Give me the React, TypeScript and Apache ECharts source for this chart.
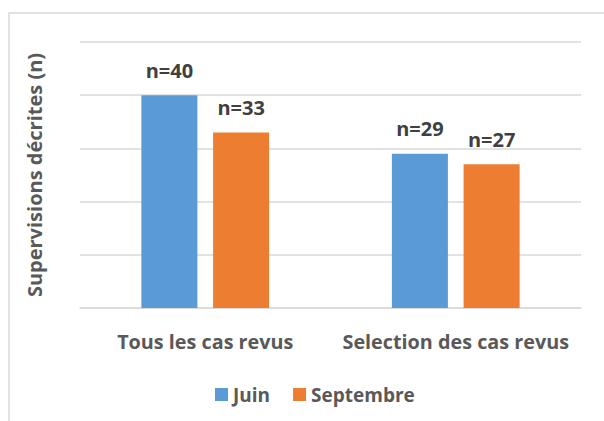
import React, { useEffect, useRef } from "react";
import * as echarts from "echarts";

const categories = ["Tous les cas revus", "Selection des cas revus"];
const seriesNames = ["Juin", "Septembre"];
const juinValues = [40, 29];
const septembreValues = [33, 27];
const colors = ["#5B9BD5", "#ED7D31"];
const yMin = 0;
const yMax = 50;
const yInterval = 10;
const yTitle = "Supervisions décrites (n)";

export default function App() {
  const ref = useRef<HTMLDivElement>(null);
  useEffect(() => {
    if (!ref.current) return;
    const chart = echarts.init(ref.current, null, { renderer: "svg" });
    const font = "'Open Sans', sans-serif";
    const mkSeries = (name: string, data: number[], color: string) => ({
      name,
      type: "bar",
      data,
      barGap: "28%",
      barCategoryGap: "49%",
      itemStyle: { color },
      label: {
        show: true,
        position: "top",
        distance: 15,
        formatter: (p: any) => "n=" + p.value,
        color: "#404040",
        fontFamily: font,
        fontWeight: "bold",
        fontSize: 20,
      },
    });
    chart.setOption({
      animation: false,
      graphic: [
        {
          type: "rect",
          shape: { x: 9, y: 13, width: 700, height: 500 },
          style: { fill: "none", stroke: "#d9d9d9", lineWidth: 1.5 },
          silent: true,
        },
      ],
      grid: { left: 80, right: 23, top: 42, bottom: 113, containLabel: false },
      legend: {
        data: seriesNames,
        top: 380,
        left: 210,
        itemWidth: 13,
        itemHeight: 13,
        itemGap: 23,
        icon: "rect",
        textStyle: { color: "#595959", fontFamily: font, fontWeight: "bold", fontSize: 19 },
      },
      xAxis: {
        type: "category",
        data: categories,
        axisLine: { show: true, lineStyle: { color: "#d9d9d9", width: 1.5 } },
        axisTick: { show: false },
        axisLabel: {
          interval: 0,
          color: "#595959",
          fontFamily: font,
          fontWeight: "bold",
          fontSize: 19.8,
          margin: 23,
        },
      },
      yAxis: {
        type: "value",
        min: yMin,
        max: yMax,
        interval: yInterval,
        name: yTitle,
        nameLocation: "middle",
        nameGap: 36,
        nameTextStyle: { color: "#595959", fontFamily: font, fontWeight: "bold", fontSize: 20 },
        axisLabel: { show: false },
        axisLine: { show: false },
        axisTick: { show: false },
        splitLine: { lineStyle: { color: "#d9d9d9", width: 1.5 } },
      },
      series: [
        mkSeries(seriesNames[0], juinValues, colors[0]),
        mkSeries(seriesNames[1], septembreValues, colors[1]),
      ],
    });
    return () => chart.dispose();
  }, []);
  return (
    <div
      ref={ref}
      style={{ position: "absolute", left: 0, top: 0, width: 604, height: 421, background: "#fff" }}
    />
  );
}
